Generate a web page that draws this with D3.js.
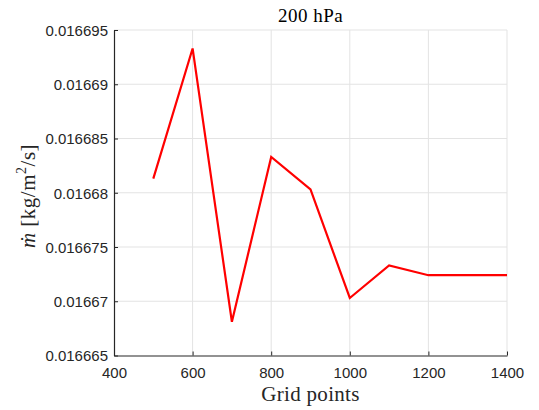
<!DOCTYPE html>
<html><head><meta charset="utf-8">
<script src="https://cdn.jsdelivr.net/npm/d3@7"></script>
<style>body{margin:0;background:#fff}svg{display:block}</style>
</head><body>
<svg id="c" width="539" height="410"></svg>
<script>
const gridPoints = [500, 600, 700, 800, 900, 1000, 1100, 1200, 1300, 1400];
const mdot = [0.0166813, 0.0166933, 0.0166681, 0.0166833, 0.0166803, 0.0166703, 0.0166733, 0.0166724, 0.0166724, 0.0166724];
const xTicks = [400, 600, 800, 1000, 1200, 1400];
const yTicks = [0.016665, 0.01667, 0.016675, 0.01668, 0.016685, 0.01669, 0.016695];
const yTickLabels = ["0.016665", "0.01667", "0.016675", "0.01668", "0.016685", "0.01669", "0.016695"];
const titleText = "200 hPa";
const xLabel = "Grid points";

const svg = d3.select("#c");
const L = 114, R = 507, T = 30, B = 355.5;
const x = d3.scaleLinear().domain([400, 1400]).range([L, R]);
const y = d3.scaleLinear().domain([0.016665, 0.016695]).range([B, T]);

// grid
const g = svg.append("g");
g.selectAll(".gx").data(xTicks.slice(1)).join("line")
  .attr("x1", d => x(d)).attr("x2", d => x(d)).attr("y1", T).attr("y2", B)
  .attr("stroke", "#e3e3e3").attr("stroke-width", 1);
g.selectAll(".gy").data(yTicks.slice(1)).join("line")
  .attr("y1", d => y(d)).attr("y2", d => y(d)).attr("x1", L).attr("x2", R)
  .attr("stroke", "#e3e3e3").attr("stroke-width", 1);

// axes
const xAxis = d3.axisBottom(x).tickValues(xTicks).tickFormat(d3.format("d")).tickSizeInner(-4).tickSizeOuter(0).tickPadding(10);
const yAxis = d3.axisLeft(y).tickValues(yTicks).tickFormat((d, i) => yTickLabels[i]).tickSizeInner(-4).tickSizeOuter(0).tickPadding(6);
const ax = svg.append("g").attr("transform", `translate(0,${B})`).call(xAxis);
const ay = svg.append("g").attr("transform", `translate(${L},0)`).call(yAxis);
[ax, ay].forEach(a => {
  a.select(".domain").attr("stroke", "#262626").attr("stroke-width", 1.2);
  a.selectAll(".tick line").attr("stroke", "#262626");
  a.selectAll("text").attr("fill", "#262626").style("font-family", "'Liberation Sans', Arial, sans-serif").style("font-size", "15px");
});
ax.selectAll("text").attr("dy", "0.71em").attr("y", 12);
ay.selectAll("text").attr("dy", "0.36em");

// line
svg.append("path").datum(gridPoints.map((d, i) => [d, mdot[i]]))
  .attr("d", d3.line().x(d => x(d[0])).y(d => y(d[1])))
  .attr("fill", "none").attr("stroke", "#ff0000").attr("stroke-width", 2.2)
  .attr("stroke-linejoin", "miter");

// title
svg.append("text").attr("x", (L + R) / 2).attr("y", 22).attr("text-anchor", "middle")
  .style("font-family", "'Liberation Serif', 'Times New Roman', serif").style("font-size", "19px")
  .style("letter-spacing", "0.5px")
  .attr("fill", "#000").text(titleText);

// x label
svg.append("text").attr("x", (L + R) / 2).attr("y", 401).attr("text-anchor", "middle")
  .style("font-family", "'Liberation Serif', 'Times New Roman', serif").style("font-size", "21px")
  .style("letter-spacing", "0.3px")
  .attr("fill", "#262626").text(xLabel);

// y label
const yl = svg.append("text").attr("transform", `translate(35,196) rotate(-90)`)
  .attr("text-anchor", "middle")
  .style("font-family", "'Liberation Serif', 'Times New Roman', serif").style("font-size", "21px")
  .style("letter-spacing", "0.5px")
  .attr("fill", "#262626");
yl.append("tspan").style("font-style", "italic").text("ṁ");
yl.append("tspan").text("  [kg/m");
yl.append("tspan").attr("dy", -9).style("font-size", "14px").text("2");
yl.append("tspan").attr("dy", 9).text("/s]");
</script>
</body></html>
